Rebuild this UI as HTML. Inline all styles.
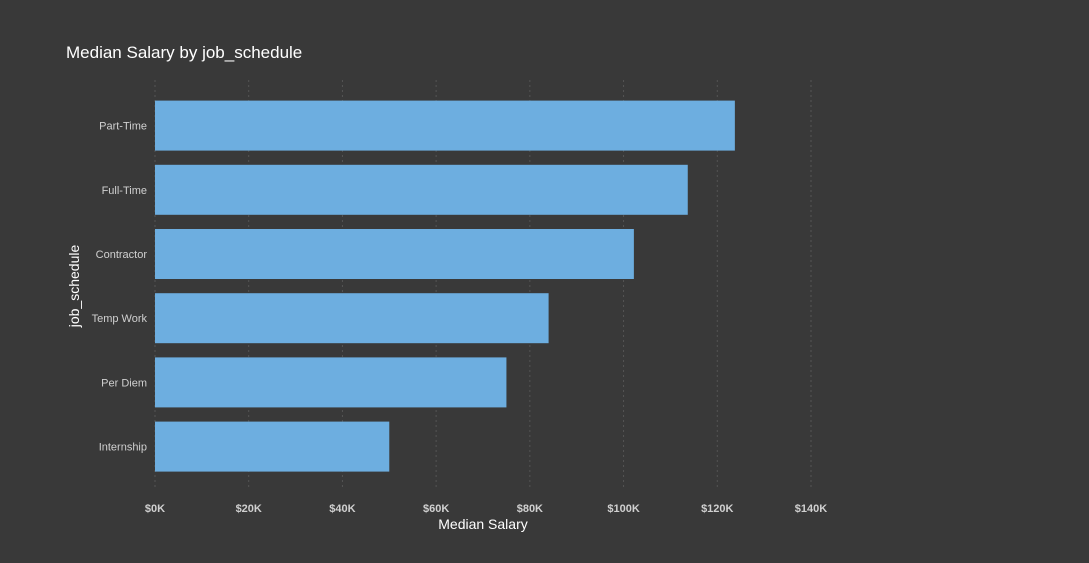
<!DOCTYPE html>
<html><head><meta charset="utf-8"><style>
html,body{margin:0;padding:0;background:#393939;}
svg{display:block;font-family:"Liberation Sans",Arial,sans-serif;}
</style></head><body>
<svg id="chart" width="1089" height="563">
<rect width="1089" height="563" fill="#393939"/>
<text x="66" y="58" fill="#ffffff" font-size="17">Median Salary by job_schedule</text>
<g id="grid"></g><g id="bars"></g><g id="ylabels"></g><g id="xlabels"></g>
<text x="483" y="529" fill="#ffffff" font-size="14" text-anchor="middle">Median Salary</text>
<text transform="translate(79,286) rotate(-90)" fill="#ffffff" font-size="14" text-anchor="middle">job_schedule</text>
</svg>
<script>
const categories = ["Part-Time","Full-Time","Contractor","Temp Work","Per Diem","Internship"];
const values = [123750, 113700, 102200, 84000, 75000, 50000];
const ticks = [0,20000,40000,60000,80000,100000,120000,140000];
const tickLabels = ["$0K","$20K","$40K","$60K","$80K","$100K","$120K","$140K"];
const NS="http://www.w3.org/2000/svg";
const x0=155, x1=811, xmax=140000;
const xs=v=>x0+(v/xmax)*(x1-x0);
const yTop=93.5, step=64.2, bh=50;
const ys=i=>yTop+i*step+(step-bh)/2;
function mk(t,a,p){const e=document.createElementNS(NS,t);for(const k in a)e.setAttribute(k,a[k]);p.appendChild(e);return e;}
const grid=document.getElementById('grid'),bars=document.getElementById('bars'),yl=document.getElementById('ylabels'),xl=document.getElementById('xlabels');
ticks.forEach((t,i)=>{
  const l=mk('line',{x1:xs(t),x2:xs(t),y1:80,y2:490,stroke:'#555555','stroke-width':1,'stroke-dasharray':'2,3'},grid);
  
  
  const tx=mk('text',{x:xs(t),y:512,fill:'#d0d0d0','font-size':11,'font-weight':'bold','text-anchor':'middle'},xl);
  tx.textContent=tickLabels[i];
  
  
});
categories.forEach((c,i)=>{
  const r=mk('rect',{x:x0,y:ys(i),width:xs(values[i])-x0,height:bh,fill:'#6daee0'},bars);
  
  
  const tx=mk('text',{x:147,y:ys(i)+bh/2+4,fill:'#d0d0d0','font-size':11,'text-anchor':'end'},yl);
  tx.textContent=c;
  
  
});
</script>
</body></html>
